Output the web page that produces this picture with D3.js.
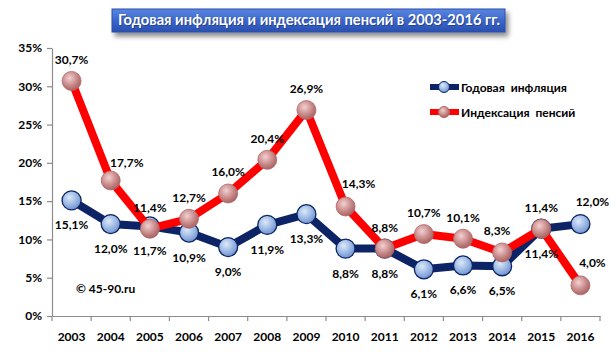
<!DOCTYPE html>
<html><head><meta charset="utf-8">
<script src="https://cdn.jsdelivr.net/npm/d3@7"></script>
<style>body{margin:0;background:#fff}svg{display:block}</style>
</head><body>
<svg id="c" width="616" height="359"></svg>
<script>
const years = ["2003","2004","2005","2006","2007","2008","2009","2010","2011","2012","2013","2014","2015","2016"];
const inflation = [15.1,12.0,11.7,10.9,9.0,11.9,13.3,8.8,8.8,6.1,6.6,6.5,11.4,12.0];
const pensions = [30.7,17.7,11.4,12.7,16.0,20.4,26.9,14.3,8.8,10.7,10.1,8.3,11.4,4.0];
const yTicks = [0,5,10,15,20,25,30,35];
const seriesNames = ["Годовая инфляция","Индексация пенсий"];
const title = "Годовая инфляция и индексация пенсий в 2003-2016 гг.";

const svg = d3.select("#c");
const font = "Lato, 'Open Sans', sans-serif";
const L=52,R=600,T=48,B=316;
const x = d3.scaleBand().domain(years).range([L,R]);
const y = d3.scaleLinear().domain([0,35]).range([B,T]);
const fmt = v => v.toFixed(1).replace(".",",")+"%";

const defs = svg.append("defs");
const g1 = defs.append("radialGradient").attr("id","gb").attr("cx","40%").attr("cy","35%").attr("r","65%");
g1.append("stop").attr("offset","0").attr("stop-color","#dde8f8");
g1.append("stop").attr("offset","0.6").attr("stop-color","#9ab8e4");
g1.append("stop").attr("offset","1").attr("stop-color","#7393cc");
const g2 = defs.append("radialGradient").attr("id","gr").attr("cx","40%").attr("cy","35%").attr("r","65%");
g2.append("stop").attr("offset","0").attr("stop-color","#f2d0d0");
g2.append("stop").attr("offset","0.6").attr("stop-color","#c98a8a");
g2.append("stop").attr("offset","1").attr("stop-color","#a86464");
const gt = defs.append("linearGradient").attr("id","gt").attr("x1",0).attr("y1",0).attr("x2",0).attr("y2",1);
gt.append("stop").attr("offset","0").attr("stop-color","#5b87e0");
gt.append("stop").attr("offset","0.5").attr("stop-color","#3a66cc");
gt.append("stop").attr("offset","1").attr("stop-color","#2a50b0");
const sh = defs.append("filter").attr("id","sh").attr("x","-10%").attr("y","-30%").attr("width","130%").attr("height","180%");
sh.append("feGaussianBlur").attr("in","SourceAlpha").attr("stdDeviation",2.5);
sh.append("feOffset").attr("dx",3).attr("dy",4).attr("result","o");
sh.append("feComponentTransfer").append("feFuncA").attr("type","linear").attr("slope",0.45);
const m = sh.append("feMerge"); m.append("feMergeNode"); m.append("feMergeNode").attr("in","SourceGraphic");

// title
svg.append("rect").attr("x",112).attr("y",9).attr("width",393).attr("height",23)
  .attr("fill","url(#gt)").attr("stroke","#2a4ea8").attr("stroke-width",1).attr("filter","url(#sh)");
svg.append("text").attr("x",309).attr("y",25).attr("text-anchor","middle")
  .attr("font-family",font).attr("font-weight","bold").attr("font-size",14.7)
  .attr("fill","#1a2f70").attr("opacity",0.6).attr("transform","translate(1,1)").text(title);
svg.append("text").attr("x",309).attr("y",25).attr("text-anchor","middle")
  .attr("font-family",font).attr("font-weight","bold").attr("font-size",14.7)
  .attr("fill","#fff").text(title);

// axes
const ya = svg.append("g").attr("transform",`translate(${L},0)`)
  .call(d3.axisLeft(y).tickValues(yTicks).tickFormat(d=>d+"%").tickSize(5).tickSizeOuter(0));
const xa = svg.append("g").attr("transform",`translate(0,${B})`)
  .call(d3.axisBottom(x).tickSize(0).tickPadding(16));
[ya,xa].forEach(a=>{
  a.select(".domain").attr("stroke","#8c8c8c").attr("stroke-width",1.2);
  a.selectAll("line").attr("stroke","#8c8c8c").attr("stroke-width",1.2);
  a.selectAll("text").attr("font-family",font).attr("font-weight","bold").attr("font-size",12).attr("fill","#000");
});
ya.selectAll("text").attr("dx",-2);
const bounds = years.map(d=>x(d)).concat([R]);
svg.append("g").selectAll("line").data(bounds).join("line")
  .attr("x1",d=>d).attr("x2",d=>d).attr("y1",B).attr("y2",B+5)
  .attr("stroke","#8c8c8c").attr("stroke-width",1.2);

const cx = d => x(d)+x.bandwidth()/2;
const line = d3.line().x((d,i)=>cx(years[i])).y(d=>y(d));

svg.append("path").datum(inflation).attr("d",line).attr("fill","none")
  .attr("stroke","#0c2366").attr("stroke-width",8).attr("stroke-linejoin","round");
svg.append("g").selectAll("circle").data(inflation).join("circle")
  .attr("cx",(d,i)=>cx(years[i])).attr("cy",d=>y(d)).attr("r",9.5)
  .attr("fill","url(#gb)").attr("stroke","#0c2366").attr("stroke-width",1.3);

svg.append("path").datum(pensions).attr("d",line).attr("fill","none")
  .attr("stroke","#ff0000").attr("stroke-width",8).attr("stroke-linejoin","round");
svg.append("g").selectAll("circle").data(pensions).join("circle")
  .attr("cx",(d,i)=>cx(years[i])).attr("cy",d=>y(d)).attr("r",9.5)
  .attr("fill","url(#gr)").attr("stroke","#b06868").attr("stroke-width",0.8);

const lbl = (data, placeFn) => svg.append("g").selectAll("text").data(data).join("text")
  .attr("x",(d,i)=>cx(years[i])+placeFn(i)[0]).attr("y",(d,i)=>y(d)+placeFn(i)[1])
  .attr("text-anchor","middle").attr("font-family",font).attr("font-weight","bold")
  .attr("font-size",12).attr("fill","#000").text(fmt);
const last = years.length-1;
lbl(inflation, i => i===last ? [12,-18] : [0,29]);
lbl(pensions, i => {
  if (i===1) return [16,-13];
  if (i===7) return [13,-19];
  if (i===last) return [12,-18];
  if (i===11) return [-5,-17];
  return [0,-17];
});

const lg = svg.append("g");
[[87,"#0c2366","url(#gb)","#0c2366"],[112,"#ff0000","url(#gr)","#b06868"]].forEach((s,k)=>{
  lg.append("line").attr("x1",430).attr("x2",459).attr("y1",s[0]).attr("y2",s[0])
    .attr("stroke",s[1]).attr("stroke-width",6);
  lg.append("circle").attr("cx",444).attr("cy",s[0]).attr("r",5.5).attr("fill",s[2]).attr("stroke",s[3]).attr("stroke-width",1);
  lg.append("text").attr("x",461).attr("y",s[0]+4.5).attr("font-family",font).attr("font-weight","bold")
    .attr("font-size",12).attr("word-spacing",3).attr("fill","#000").text(seriesNames[k]);
});

svg.append("text").attr("x",76).attr("y",293).attr("font-family",font).attr("font-weight","bold")
  .attr("font-size",12).attr("fill","#000").text("© 45-90.ru");
</script>
</body></html>
